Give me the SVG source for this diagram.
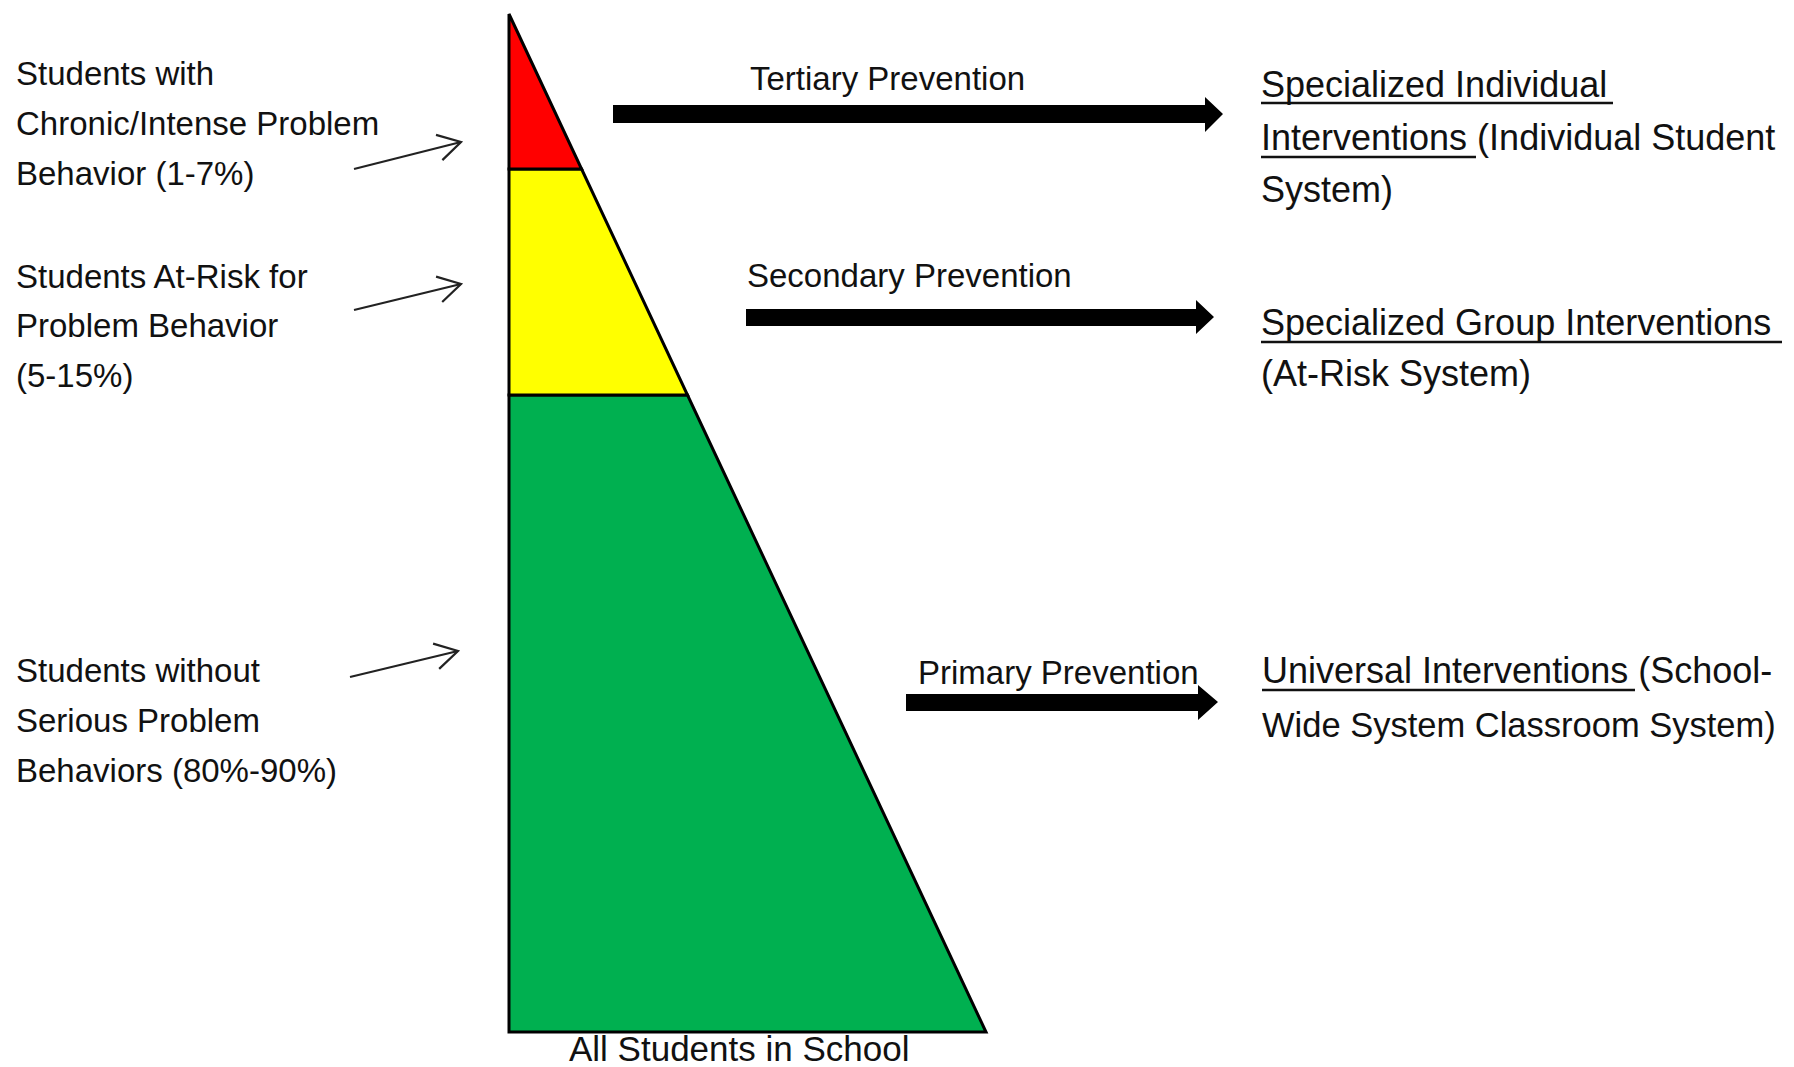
<svg xmlns="http://www.w3.org/2000/svg" width="1794" height="1067" viewBox="0 0 1794 1067">
<style>
.lbl{font-family:"Liberation Sans",Arial,sans-serif;font-size:33px;fill:#111}
.rt{font-family:"Liberation Sans",Arial,sans-serif;font-size:36px;fill:#111}
.ul{stroke:#111;stroke-width:2.5}
.tier{stroke:#000;stroke-width:3;stroke-linejoin:miter}
.thin{stroke:#222;stroke-width:2.2;fill:none}
.block{fill:#000}
</style>
<defs>
<marker id="open" markerUnits="userSpaceOnUse" viewBox="-2 -15 27 30" markerWidth="27" markerHeight="30" refX="22.5" refY="0" orient="auto">
<path d="M0,-13 L22.5,0 L0,13" fill="none" stroke="#222" stroke-width="2.2"/>
</marker>
</defs>
<rect width="1794" height="1067" fill="#fff"/>
<g id="pyramid">
<polygon id="tier-green" class="tier" fill="#00B050" points="509,395 687.5,395 986,1032 509,1032"/>
<polygon id="tier-yellow" class="tier" fill="#FFFF00" points="509,169 581.6,169 687.5,395 509,395"/>
<polygon id="tier-red" class="tier" fill="#FF0000" points="509,14 581.6,169 509,169"/>
</g>
<g id="label-chronic">
<text class="lbl" x="16" y="85">Students with</text>
<text class="lbl" x="16" y="135">Chronic/Intense Problem</text>
<text class="lbl" x="16" y="185">Behavior (1-7%)</text>
</g>
<g id="label-atrisk">
<text class="lbl" x="16" y="288">Students At-Risk for</text>
<text class="lbl" x="16" y="337">Problem Behavior</text>
<text class="lbl" x="16" y="387">(5-15%)</text>
</g>
<g id="label-without">
<text class="lbl" x="16" y="682">Students without</text>
<text class="lbl" x="16" y="732">Serious Problem</text>
<text class="lbl" x="16" y="782">Behaviors (80%-90%)</text>
</g>
<g id="label-tertiary"><text class="lbl" x="750" y="90">Tertiary Prevention</text></g>
<g id="label-secondary"><text class="lbl" x="747" y="287">Secondary Prevention</text></g>
<g id="label-primary"><text class="lbl" x="918" y="684">Primary Prevention</text></g>
<g id="out-individual">
<text class="rt" x="1261" y="97">Specialized Individual</text>
<text class="rt" x="1261" y="150">Interventions (Individual Student</text>
<text class="rt" x="1261" y="202">System)</text>
<line class="ul" x1="1261" y1="103" x2="1613" y2="103"/>
<line class="ul" x1="1261" y1="157" x2="1476" y2="157"/>
</g>
<g id="out-group">
<text class="rt" x="1261" y="335">Specialized Group Interventions</text>
<text class="rt" x="1261" y="386">(At-Risk System)</text>
<line class="ul" x1="1261" y1="342" x2="1782" y2="342"/>
</g>
<g id="out-universal">
<text class="rt" x="1262" y="683">Universal Interventions (School-</text>
<text class="rt" x="1262" y="737" style="font-size:34.5px">Wide System Classroom System)</text>
<line class="ul" x1="1262" y1="690" x2="1635" y2="690"/>
</g>
<g id="label-all"><text class="rt" x="569" y="1061" style="font-size:35px">All Students in School</text></g>
<g id="connectors">
<line class="thin" x1="354" y1="169" x2="461" y2="142" marker-end="url(#open)"/>
<line class="thin" x1="354" y1="310" x2="461" y2="284" marker-end="url(#open)"/>
<line class="thin" x1="350" y1="677" x2="458" y2="651" marker-end="url(#open)"/>
<polygon class="block" points="613,105 1205,105 1205,97 1223,114 1205,132 1205,123 613,123"/>
<polygon class="block" points="746,309 1196,309 1196,300 1214,317 1196,334 1196,326 746,326"/>
<polygon class="block" points="906,694 1198,694 1198,685 1218,702 1198,720 1198,711 906,711"/>
</g>
</svg>
